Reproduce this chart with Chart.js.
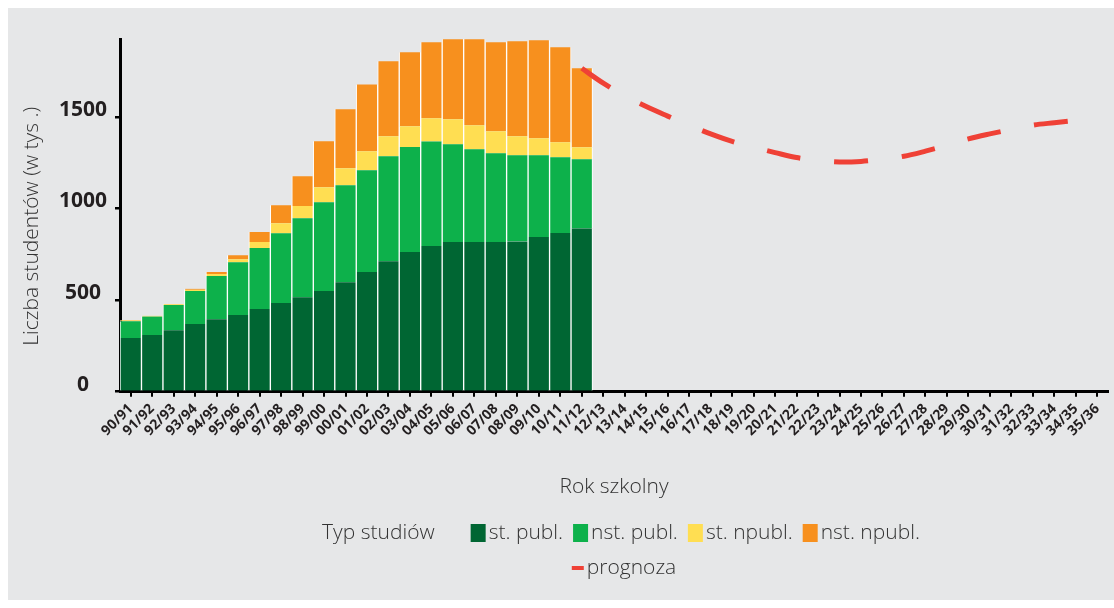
<!DOCTYPE html>
<html>
<head>
<meta charset="utf-8">
<script src="https://cdn.jsdelivr.net/npm/chart.js@4/dist/chart.umd.min.js"></script>
<style>
  html, body { margin: 0; padding: 0; background: #ffffff; }
  #wrap { width: 1114px; height: 608px; }
</style>
</head>
<body>
<div id="wrap"><canvas id="studenciChart" width="1114" height="608"></canvas></div>
<script>
// lata szkolne 90/91 .. 35/36
const lata = ['90/91','91/92','92/93','93/94','94/95','95/96','96/97','97/98','98/99','99/00',
  '00/01','01/02','02/03','03/04','04/05','05/06','06/07','07/08','08/09','09/10','10/11','11/12',
  '12/13','13/14','14/15','15/16','16/17','17/18','18/19','19/20','20/21','21/22','22/23','23/24',
  '24/25','25/26','26/27','27/28','28/29','29/30','30/31','31/32','32/33','33/34','34/35','35/36'];

// liczba studentow w tys. (90/91 - 11/12)
const stPubl   = [293,309,336,369,396,418,451,484,516,549,598,653,712,762,795,817,817,817,820,844,866,891];
const nstPubl  = [92,101,137,180,235,289,333,381,431,485,529,556,573,573,571,533,506,484,470,446,414,378];
const stNpubl  = [4,4,4,7,11,16,33,55,66,82,93,103,109,114,126,137,131,120,104,93,81,65];
const nstNpubl = [2,1,1,6,11,22,54,98,163,251,321,365,409,404,415,436,469,486,519,535,519,431];

// prognoza od 11/12 do 34/35
const prognozaStart = 21;
const prognoza = [1765,1684,1615,1556,1504,1454,1407,1366,1334,1305,1278,1263,
  1254,1257,1269,1285,1313,1345,1380,1407,1431,1455,1468,1480];

const yTicks = [0, 500, 1000, 1500];
const legendTitle = 'Typ studiów';

const prognozaData = lata.map((_, i) => {
  const k = i - prognozaStart;
  return (k >= 0 && k < prognoza.length) ? prognoza[k] : null;
});

const FONT = '"Open Sans", "Noto Sans", sans-serif';
const TXT = '#231f20';

function barSet(label, data, color) {
  return {
    type: 'bar',
    label: label,
    data: data,
    backgroundColor: color,
    borderColor: '#ffffff',
    borderWidth: { left: 1, right: 1, top: 0, bottom: 0 },
    borderSkipped: false,
    barPercentage: 1,
    categoryPercentage: 1,
    stack: 's',
    order: 1
  };
}

const tlo = {
  id: 'tlo',
  beforeDraw(chart) {
    const ctx = chart.ctx;
    ctx.save();
    ctx.fillStyle = '#e6e7e8';
    ctx.fillRect(8, 8, chart.width - 8, chart.height - 16);
    ctx.restore();
  }
};

// legenda w dwoch wierszach z tytulem po lewej
const legenda = {
  id: 'legenda',
  afterDraw(chart) {
    const ctx = chart.ctx;
    const bars = chart.data.datasets.filter(d => d.type === 'bar');
    const line = chart.data.datasets.find(d => d.type === 'line');
    ctx.save();
    ctx.font = '300 21px ' + FONT;
    ctx.textBaseline = 'middle';
    ctx.textAlign = 'left';

    const boxW = 15, boxH = 18, gapBox = 3, gapItem = 10, gapTitle = 36;
    let total = ctx.measureText(legendTitle).width + gapTitle;
    bars.forEach((d, i) => {
      total += boxW + gapBox + ctx.measureText(d.label).width;
      if (i < bars.length - 1) total += gapItem;
    });
    let x = 621 - total / 2;
    const y1 = 533;
    ctx.fillStyle = '#333333';
    ctx.fillText(legendTitle, x, y1);
    x += ctx.measureText(legendTitle).width + gapTitle;
    bars.forEach(d => {
      ctx.fillStyle = d.backgroundColor;
      ctx.fillRect(x, y1 - boxH / 2, boxW, boxH);
      x += boxW + gapBox;
      ctx.fillStyle = '#333333';
      ctx.fillText(d.label, x, y1);
      x += ctx.measureText(d.label).width + gapItem;
    });

    const y2 = 568;
    const w2 = 12 + gapBox + ctx.measureText(line.label).width;
    let x2 = 624 - w2 / 2;
    ctx.fillStyle = line.borderColor;
    ctx.fillRect(x2, y2 - 2, 12, 4);
    ctx.fillStyle = '#333333';
    ctx.fillText(line.label, x2 + 12 + gapBox, y2);
    ctx.restore();
  }
};

new Chart(document.getElementById('studenciChart').getContext('2d'), {
  data: {
    labels: lata,
    datasets: [
      barSet('st. publ.', stPubl, '#006633'),
      barSet('nst. publ.', nstPubl, '#0db14b'),
      barSet('st. npubl.', stNpubl, '#ffde52'),
      barSet('nst. npubl.', nstNpubl, '#f7901e'),
      {
        type: 'line',
        label: 'prognoza',
        data: prognozaData,
        borderColor: '#ef4136',
        borderWidth: 5,
        borderDash: [34, 34],
        pointRadius: 0,
        fill: false,
        tension: 0.4,
        cubicInterpolationMode: 'monotone',
        spanGaps: false,
        order: 0
      }
    ]
  },
  options: {
    responsive: false,
    animation: false,
    layout: { padding: { top: 39, right: 6, bottom: 98, left: 0 } },
    plugins: {
      legend: { display: false },
      tooltip: { enabled: false }
    },
    scales: {
      x: {
        stacked: true,
        offset: true,
        border: { display: true, color: '#000000', width: 3 },
        grid: { offset: false, drawOnChartArea: false, drawTicks: true, tickLength: 5, color: '#000000', lineWidth: 2 },
        ticks: {
          autoSkip: false,
          minRotation: 45,
          maxRotation: 45,
          padding: 4,
          color: TXT,
          font: { family: FONT, size: 14, weight: 'bold' }
        },
        title: {
          display: true,
          text: 'Rok szkolny',
          color: '#333333',
          font: { family: FONT, size: 21, weight: '300' },
          padding: { top: 0, bottom: 10 }
        },
        afterFit(scale) { scale.height = 118.3; }
      },
      y: {
        stacked: true,
        min: 0,
        max: 1925,
        border: { display: true, color: '#000000', width: 3 },
        grid: { drawOnChartArea: false, drawTicks: true, tickLength: 5, color: '#000000', lineWidth: 2.5 },
        afterBuildTicks(scale) { scale.ticks = yTicks.map(v => ({ value: v })); },
        ticks: {
          color: TXT,
          crossAlign: 'center',
          padding: 8,
          labelOffset: -7,
          font: { family: FONT, size: 21, weight: 'bold' },
          callback: v => String(v)
        },
        title: {
          display: true,
          text: 'Liczba studentów (w tys .)    ',
          color: '#333333',
          font: { family: FONT, size: 21, weight: '300' },
          padding: { top: 19, bottom: 0 }
        },
        afterFit(scale) { scale.width = 120; }
      }
    }
  },
  plugins: [tlo, legenda]
});
</script>
</body>
</html>
